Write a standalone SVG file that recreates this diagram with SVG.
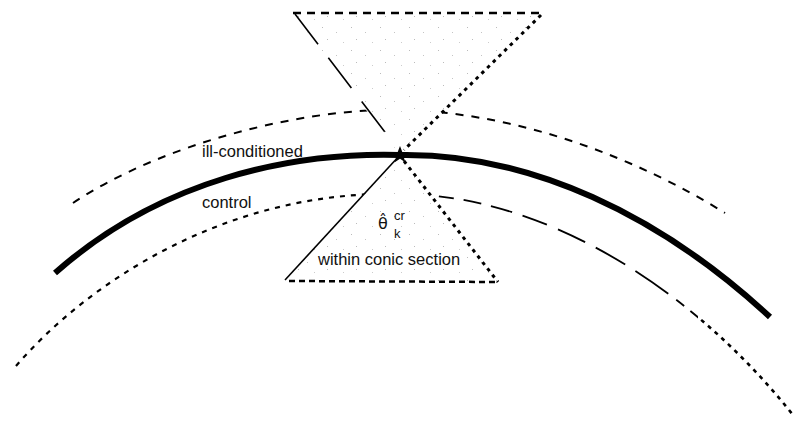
<svg xmlns="http://www.w3.org/2000/svg" width="795" height="425" viewBox="0 0 795 425">
<style>
.lbl{font-family:"Liberation Sans","DejaVu Sans",Arial,sans-serif;fill:#111;}
.sym{font-family:"DejaVu Sans","Liberation Sans",sans-serif;fill:#111;}
.curve{fill:none;stroke:#000;stroke-linecap:butt;}
.cone{stroke:none;}
.edge{fill:none;stroke:#000;}
</style>
<defs>
<pattern id="stipple" width="29" height="23" patternUnits="userSpaceOnUse">
<rect width="29" height="23" fill="#fff"/>
<rect x="3" y="4" width="1" height="1" fill="#bbb"/>
<rect x="17" y="9" width="1" height="1" fill="#c4c4c4"/>
<rect x="8" y="16" width="1" height="1" fill="#bbb"/>
<rect x="24" y="19" width="1" height="1" fill="#ccc"/>
</pattern>
<clipPath id="clipL"><rect x="0" y="0" width="698" height="425"/></clipPath>
<clipPath id="clipR"><rect x="698" y="0" width="97" height="425"/></clipPath>
</defs>
<rect width="795" height="425" fill="#fff"/>

<g id="connectors">
<!-- upper (ill-conditioned) bound -->
<path class="curve" d="M73,203 C160,145 300,108 400,110 C520,112 640,160 725,213" stroke-width="2" stroke-dasharray="8 8"/>
<!-- lower (control) bound -->
<path class="curve" d="M16,366 C90,280 230,190 400,194" stroke-width="2.2" stroke-dasharray="5 6"/>
<g clip-path="url(#clipL)">
<path class="curve" d="M400,194 C540,194 690,285 793,415" stroke-width="1.8" stroke-dasharray="10 8 12 9 15 10 18 10 22 11 26 12 30 12 34 12 40 10"/>
</g>
<g clip-path="url(#clipR)">
<path class="curve" d="M400,194 C540,194 690,285 793,415" stroke-width="2.6" stroke-dasharray="4 5"/>
</g>
</g>

<g id="upper-cone">
<polygon class="cone" points="293,13 543,13 400,155" fill="url(#stipple)"/>
<line class="edge" x1="293" y1="13" x2="543" y2="13" stroke-width="2.5" stroke-dasharray="8 6"/>
<line class="edge" x1="295" y1="14" x2="388" y2="136" stroke-width="1.6" stroke-dasharray="38 17"/>
<line class="edge" x1="541" y1="15" x2="404" y2="150" stroke-width="3" stroke-dasharray="3.5 4.5"/>
</g>

<g id="lower-cone">
<polygon class="cone" points="400,155 498,282 285,281" fill="url(#stipple)"/>
<line class="edge" x1="400" y1="155" x2="285" y2="280" stroke-width="1.6"/>
<line class="edge" x1="289" y1="281" x2="498" y2="282" stroke-width="2.5" stroke-dasharray="6 4"/>
<line class="edge" x1="404" y1="161" x2="498" y2="282" stroke-width="3" stroke-dasharray="3.5 4.5"/>
</g>

<g id="trajectory">
<path class="curve" d="M55,273 C160,180 290,152 400,155 C530,153 660,215 770,317" stroke-width="6"/>
</g>

<g id="star">
<polygon points="400,146 402.3,152 408.5,152.3 403.5,156.2 405.3,162.2 400,158.8 394.7,162.2 396.5,156.2 391.5,152.3 397.7,152" fill="#000"/>
</g>

<g id="labels">
<text class="lbl" x="202" y="157" font-size="16.5">ill-conditioned</text>
<text class="lbl" x="202" y="208" font-size="16.5">control</text>
<text class="lbl" x="318" y="265" font-size="16.5">within conic section</text>
<text class="sym" x="378" y="229" font-size="16">θ̂</text>
<text class="lbl" x="394" y="220" font-size="13">cr</text>
<text class="lbl" x="394" y="238" font-size="13">k</text>
</g>
</svg>
